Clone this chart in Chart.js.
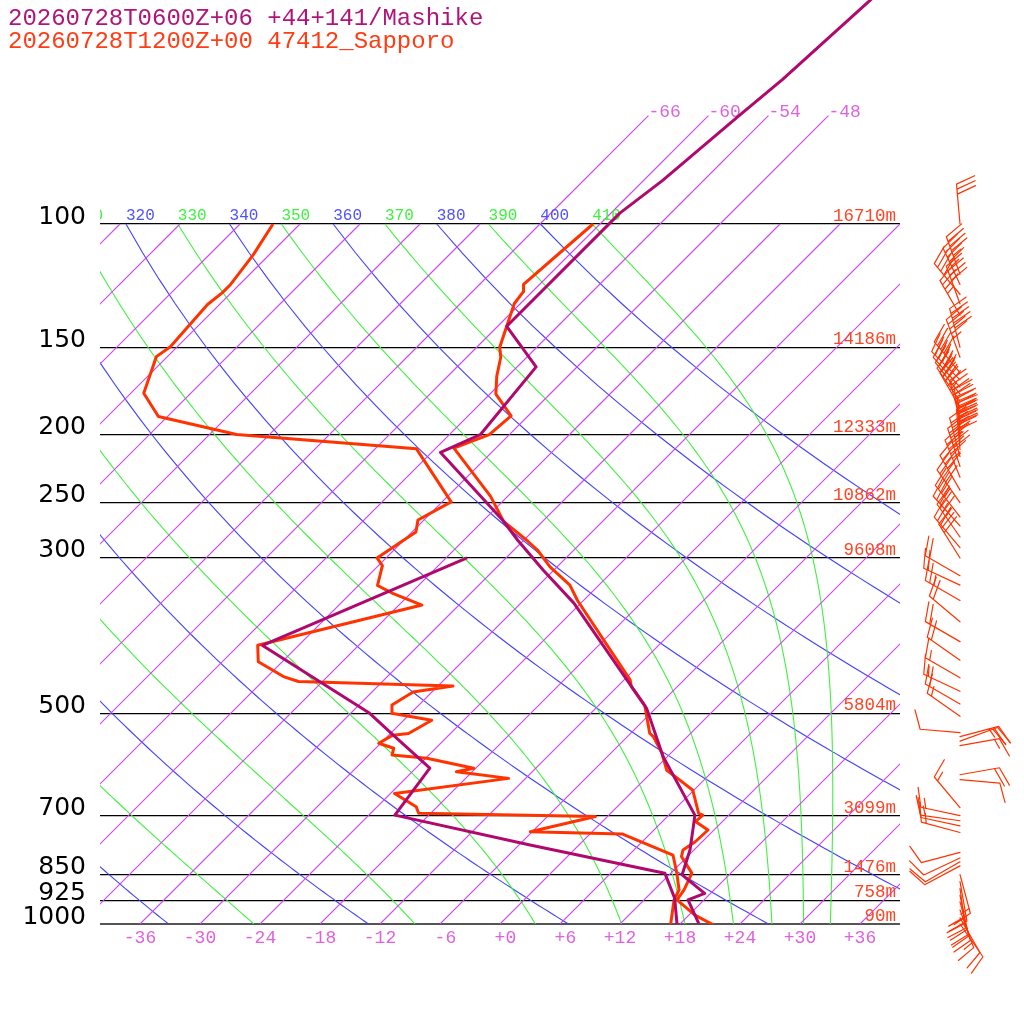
<!DOCTYPE html>
<html><head><meta charset="utf-8">
<script src="https://cdn.jsdelivr.net/npm/chart.js@4.4.1/dist/chart.umd.min.js"></script>
<style>html,body{margin:0;padding:0;background:#fff;}#wrap{width:1024px;height:1024px;position:relative;}</style>
</head><body><div id="wrap"><canvas id="c" width="1024" height="1024"></canvas></div>
<script>
// ---------- data ----------
const titleLines = ['20260728T0600Z+06 +44+141/Mashike', '20260728T1200Z+00 47412_Sapporo'];
const pressureTicks = [100, 150, 200, 250, 300, 500, 700, 850, 925, 1000];
const heightLabels = ['16710m', '14186m', '12333m', '10862m', '9608m', '5804m', '3099m', '1476m', '758m', '90m'];
const tempTicks = [-36, -30, -24, -18, -12, -6, 0, 6, 12, 18, 24, 30, 36];
const isoTemps = [-108, -102, -96, -90, -84, -78, -72, -66, -60, -54, -48, -42, -36, -30, -24, -18, -12, -6, 0, 6, 12, 18, 24, 30, 36, 42];
const upperIsoTemps = [-66, -60, -54, -48];
const dryThetas = [220, 240, 260, 280, 300, 320, 340, 360, 380, 400];
const moistThetas = [230, 250, 270, 290, 310, 330, 350, 370, 390, 410];

// Mashike (purple)
const mashikeP = [1000, 924, 904, 851, 784, 726, 699, 639, 577, 492, 348, 312, 283, 265, 212, 200, 160, 140, 96.5, 86.7, 69.8, 62.2, 47];
const mashikeT = [19.9, 16.4, 17.4, 13.3, 11.6, 9.6, 8.6, 4.4, -0.4, -6.9, -24.7, -31.1, -36.6, -40.1, -53.1, -50.9, -52.1, -59.1, -59.1, -58.1, -56.9, -56.2, -55.3];
const mashikeDewP = [1000, 919, 846, 771, 699, 599, 537, 500, 400, 300];
const mashikeDew = [17.7, 14.9, 11.4, -4.9, -21.4, -22.6, -29.6, -34.1, -51.6, -39.9];

// Sapporo (red)
const sapporoP = [1005, 971, 924, 894, 846, 801, 784, 763, 734, 714, 699, 695, 644, 623, 603, 570, 540, 534, 487, 458, 448, 345, 328, 309, 292, 283, 266, 245, 209, 200, 188, 175, 165, 155, 150, 140, 130, 125, 122, 100];
const sapporoT = [21.6, 18.6, 15.3, 15.0, 14.1, 11.4, 10.9, 11.3, 11.4, 9.3, 9.4, 8.8, 5.9, 3.6, 1.3, -0.9, -3.4, -4.1, -7.4, -10.6, -11.4, -24.6, -26.9, -30.7, -33.7, -35.7, -39.9, -43.7, -52.2, -50.0, -49.7, -53.4, -55.1, -56.6, -57.7, -59.1, -60.6, -60.9, -61.6, -60.7];
const sapporoDewP = [1005, 924, 894, 846, 797, 743.7, 738.1, 702.3, 694.9, 680.1, 650.8, 619.4, 605.9, 599, 579.6, 573.4, 561, 551.8, 537.3, 534.4, 511.6, 500, 486.6, 466.1, 457.2, 450.4, 443.1, 422, 399.8, 350.2, 337.4, 328.4, 307.6, 300, 275.5, 264.8, 249.4, 209.4, 199.8, 188.4, 174.5, 154.7, 149.7, 130.3, 125.3, 121.9, 110.6, 100];
const sapporoDew = [17.2, 15.0, 14.5, 12.6, 10.4, 3.2, -6.2, -1.2, -19.2, -20.1, -23.6, -13.7, -19.6, -18.2, -23.9, -27.7, -28.2, -30.2, -29.6, -28.2, -27.2, -31.9, -32.7, -31.9, -28.5, -44.4, -46.4, -50.4, -52.1, -39.7, -43.7, -46.1, -47.6, -48.9, -47.6, -48.6, -47.1, -55.9, -75.3, -84.9, -88.7, -91.1, -90.7, -91.2, -90.9, -90.9, -91.6, -92.7];

// Sapporo winds (hPa, direction deg, speed kt)
const windP = [100, 118, 122, 126, 130, 135, 150, 155, 163, 167, 171, 175, 179, 183, 190, 196, 201, 205, 210, 215, 222, 230, 240, 250, 262, 270, 280, 290, 300, 318, 328, 345, 370, 395, 420, 445, 465, 485, 505, 533, 540, 548, 556, 612, 622, 682, 700, 712, 724, 740, 790, 805, 815, 826, 850, 870, 890, 910, 930, 955, 980, 1000];
const windDir = [355, 340, 335, 320, 340, 330, 345, 340, 320, 315, 318, 322, 325, 330, 345, 352, 356, 358, 355, 345, 342, 338, 330, 325, 322, 318, 325, 320, 328, 300, 295, 300, 310, 300, 305, 300, 295, 300, 305, 275, 75, 70, 80, 80, 95, 320, 282, 278, 282, 285, 255, 245, 240, 242, 165, 170, 172, 168, 165, 160, 150, 145];
const windSpd = [30, 45, 45, 40, 40, 35, 50, 45, 40, 45, 50, 45, 40, 45, 40, 55, 60, 55, 50, 45, 50, 45, 40, 40, 35, 30, 35, 30, 30, 20, 20, 25, 20, 20, 20, 15, 15, 20, 15, 10, 25, 20, 15, 20, 10, 15, 15, 15, 10, 15, 10, 10, 10, 10, 15, 20, 25, 20, 20, 15, 10, 10];

// ---------- projection / physics constants ----------
const SKEW = 70;          // skew of isotherms (deg C per decade of pressure)
const KAPPA = 0.2857;
const P_TOP = 1000 * Math.pow(10, -924 / 700);

const COL_PURPLE = 'rgb(176,8,108)', COL_RED = 'rgb(255,51,0)';
const COL_ISO = 'rgb(206,70,242)', COL_BLUE = 'rgb(64,64,255)', COL_GREEN = 'rgb(64,240,64)';
const MONO = '"Liberation Mono", monospace';

function skewX(T, p) { return T + SKEW * Math.log10(1000 / p); }
function toPoints(ps, ts) { return ps.map((p, i) => ({ x: skewX(ts[i], p), y: p })); }

function dTdp(p, T) {
  const es = 6.112 * Math.exp(17.67 * (T - 273.15) / (T - 29.65));
  const rs = 0.622 * es / (p - es);
  const Lv = 2.501e6, Rd = 287.04, cp = 1005.7;
  return (Rd * T + Lv * rs) / (cp + Lv * Lv * rs * 0.622 / (Rd * T * T)) / p;
}
function moistCurve(theta) {
  let p = 100, T = theta * Math.pow(0.1, KAPPA);
  const out = [[p, T - 273.15]];
  const dp = 5;
  while (p < 1000) {
    const k1 = dTdp(p, T), k2 = dTdp(p + dp, T + k1 * dp);
    T += 0.5 * (k1 + k2) * dp; p += dp;
    out.push([p, T - 273.15]);
  }
  return out;
}
function dryCurve(theta) {
  const out = [];
  for (let p = 100; p <= 1000; p += 10) out.push([p, theta * Math.pow(p / 1000, KAPPA) - 273.15]);
  return out;
}

const bgPlugin = {
  id: 'skewBackground',
  beforeDatasetsDraw(chart) {
    const { ctx, chartArea: a, scales: { x, y } } = chart;
    const px = (T, p) => x.getPixelForValue(skewX(T, p));
    const py = p => y.getPixelForValue(p);
    ctx.save();
    ctx.beginPath(); ctx.rect(a.left, a.top, a.right - a.left, a.bottom - a.top); ctx.clip();
    ctx.globalAlpha = 1;
    ctx.setLineDash([]);
    ctx.lineWidth = 1.1;
    const drawCurve = (c, col) => {
      ctx.beginPath();
      c.forEach(([p, T], i) => { const X = px(T, p), Y = py(p); i ? ctx.lineTo(X, Y) : ctx.moveTo(X, Y); });
      ctx.strokeStyle = col; ctx.stroke();
    };
    dryThetas.forEach(th => drawCurve(dryCurve(th), COL_BLUE));
    moistThetas.forEach(th => drawCurve(moistCurve(th), COL_GREEN));
    isoTemps.forEach(T => drawCurve([[1000, T], [100, T]], COL_ISO));
    upperIsoTemps.forEach(T => drawCurve([[100, T], [70, T]], COL_ISO));
    ctx.restore();

    // labels
    ctx.save();
    ctx.beginPath(); ctx.rect(a.left, 0, a.right - a.left, a.bottom); ctx.clip();
    ctx.textAlign = 'left'; ctx.textBaseline = 'alphabetic';
    ctx.font = '16px ' + MONO;
    const labs = [];
    dryThetas.forEach(th => labs.push([th, 'rgb(80,80,255)']));
    moistThetas.forEach(th => labs.push([th, 'rgb(64,240,64)']));
    labs.forEach(([th, col]) => {
      const T = th * Math.pow(0.1, KAPPA) - 273.15;
      ctx.fillStyle = col;
      ctx.fillText(String(th), px(T, 100), py(100) - 4);
    });
    ctx.font = '18px ' + MONO;
    ctx.fillStyle = 'rgb(220,100,220)';
    upperIsoTemps.forEach(T => ctx.fillText(String(T), px(T, 70), py(70) + 1));
    ctx.restore();

    ctx.save();
    ctx.font = '17.5px ' + MONO;
    ctx.fillStyle = 'rgb(255,68,34)';
    ctx.textAlign = 'right';
    pressureTicks.forEach((p, i) => ctx.fillText(heightLabels[i], a.right - 4, py(p) - 3));
    ctx.restore();
  },
  afterDraw(chart) {
    const { ctx, scales: { y } } = chart;
    ctx.save();
    ctx.font = '24px ' + MONO;
    ctx.textAlign = 'left'; ctx.textBaseline = 'alphabetic';
    ctx.fillStyle = 'rgb(176,20,122)'; ctx.fillText(titleLines[0], 8, 25);
    ctx.fillStyle = 'rgb(255,60,20)'; ctx.fillText(titleLines[1], 8, 48);
    // wind barbs
    ctx.strokeStyle = COL_RED; ctx.lineWidth = 1.2; ctx.lineCap = 'round';
    const bxBase = 960, L = 40, BL = 20, ang = 70 * Math.PI / 180;
    windP.forEach((p, i) => {
      const by = y.getPixelForValue(p);
      const r = windDir[i] * Math.PI / 180;
      const ux = Math.sin(r), uy = -Math.cos(r);
      const nx = -uy, ny = ux;
      const bvx = Math.cos(ang) * ux + Math.sin(ang) * nx, bvy = Math.cos(ang) * uy + Math.sin(ang) * ny;
      const tx = bxBase + ux * L, ty = by + uy * L;
      ctx.beginPath(); ctx.moveTo(bxBase, by); ctx.lineTo(tx, ty);
      const n10 = Math.floor(windSpd[i] / 10), n5 = Math.round((windSpd[i] - n10 * 10) / 5);
      let pos = 0;
      for (let k = 0; k < n10; k++) {
        const sx = tx - ux * pos, sy = ty - uy * pos;
        ctx.moveTo(sx, sy); ctx.lineTo(sx + bvx * BL, sy + bvy * BL); pos += 5;
      }
      if (n5) {
        if (pos === 0) pos = 5;
        const sx = tx - ux * pos, sy = ty - uy * pos;
        ctx.moveTo(sx, sy); ctx.lineTo(sx + bvx * BL / 2, sy + bvy * BL / 2);
      }
      ctx.stroke();
    });
    ctx.restore();
  }
};

Chart.defaults.font.family = MONO;
new Chart(document.getElementById('c'), {
  type: 'scatter',
  data: {
    datasets: [
      { data: toPoints(mashikeDewP, mashikeDew), borderColor: COL_PURPLE },
      { data: toPoints(mashikeP, mashikeT), borderColor: COL_PURPLE },
      { data: toPoints(sapporoDewP, sapporoDew), borderColor: COL_RED },
      { data: toPoints(sapporoP, sapporoT), borderColor: COL_RED }
    ].map(d => Object.assign(d, { showLine: true, pointRadius: 0, borderWidth: 3, fill: false, tension: 0, borderJoinStyle: 'round' }))
  },
  options: {
    responsive: false, animation: false, devicePixelRatio: 1,
    layout: { padding: { left: 0, right: 124, top: 0, bottom: 0 } },
    plugins: { legend: { display: false }, tooltip: { enabled: false }, title: { display: false } },
    scales: {
      x: {
        type: 'linear', min: -40, max: 40, position: 'bottom',
        afterBuildTicks: s => { s.ticks = tempTicks.map(v => ({ value: v })); },
        afterFit: s => { s.height = 100; s.paddingLeft = 0; s.paddingRight = 0; },
        grid: { display: false, drawTicks: false }, border: { display: false },
        ticks: {
          autoSkip: false, maxRotation: 0, padding: 3, color: 'rgb(224,96,224)',
          font: { family: MONO, size: 18 },
          callback: v => ((v < 0 ? '-' : '+') + Math.abs(v)).padStart(3, ' ')
        }
      },
      y: {
        type: 'logarithmic', reverse: true, min: P_TOP, max: 1000, position: 'left',
        afterBuildTicks: s => { s.ticks = pressureTicks.map(v => ({ value: v })); },
        afterFit: s => { s.width = 100; s.paddingTop = 0; s.paddingBottom = 0; },
        grid: { drawTicks: false, color: c => (c.tick && c.tick.value === 1000) ? '#555' : '#000', lineWidth: c => (c.tick && c.tick.value === 1000) ? 2 : 1.2 },
        border: { display: false },
        ticks: {
          autoSkip: false, padding: 14, labelOffset: -7, color: '#000',
          font: { family: '"DejaVu Sans"', size: 25 },
          callback: v => String(v)
        }
      }
    }
  },
  plugins: [bgPlugin]
});
</script></body></html>
